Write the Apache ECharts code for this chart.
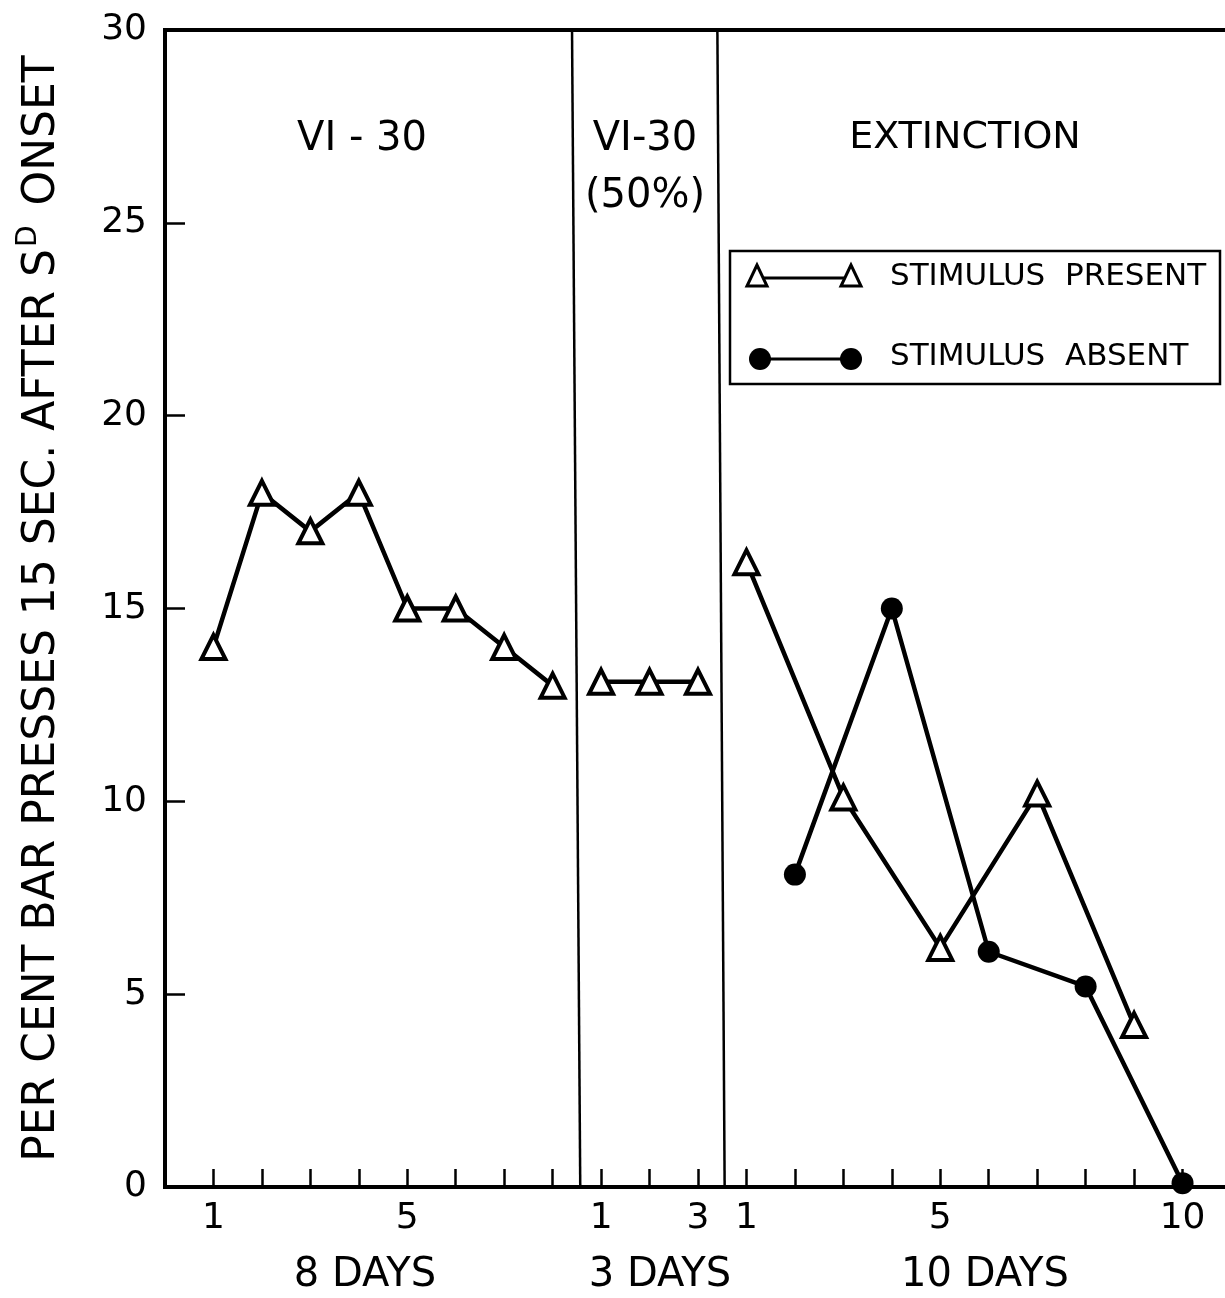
<!DOCTYPE html>
<html>
<head>
<meta charset="utf-8">
<title>Per cent bar presses 15 sec. after SD onset</title>
<script src="https://cdn.jsdelivr.net/npm/echarts@6/dist/echarts.min.js"></script>
<style>
  html, body { margin: 0; padding: 0; background: #fff; }
  #chart { width: 1225px; height: 1298px; }
</style>
</head>
<body>
<div id="chart"></div>
<script>
// Session labels along the day axis (one slot per session, all three phases in a row)
const dayTickLabels = ['1', '', '', '', '5', '', '', '', '1', '', '3', '1', '', '', '', '5', '', '', '', '', '10'];

// VI-30 phase, 8 days, stimulus present
const vi30Present = [14, 18, 17, 18, 15, 15, 14, 13];
// VI-30 (50%) phase, 3 days, stimulus present
const vi30HalfPresent = [13.1, 13.1, 13.1];
// Extinction phase, 10 days (stimulus present on odd days, absent on even days)
const extinctionPresent = [16.2, null, 10.1, null, 6.2, null, 10.2, null, 4.2, null];
const extinctionAbsent = [null, 8.1, null, 15.0, null, 6.1, null, 5.2, null, 0.1];

// y axis tick values
const yTicks = [0, 5, 10, 15, 20, 25, 30];

const FONT = 'DejaVu Sans';
const INK = '#000';

// place a phase's values on the shared session axis
function placed(values, offset) {
  const out = [];
  values.forEach((v, i) => { if (v !== null) out.push([offset + i, v]); });
  return out;
}

const vi30Start = 0;
const halfStart = vi30Start + vi30Present.length;
const extStart = halfStart + vi30HalfPresent.length;

const triangle = {
  symbol: 'triangle',
  symbolSize: [24, 24],
  itemStyle: { color: '#fff', borderColor: INK, borderWidth: 4 }
};
const lineStyle = { color: INK, width: 4.5 };

const chart = echarts.init(document.getElementById('chart'), null, { renderer: 'canvas' });

chart.setOption({
  animation: false,
  backgroundColor: '#fff',
  textStyle: { fontFamily: FONT, color: INK },
  grid: {
    left: 165, top: 30, bottom: 111, right: -6,
    outerBoundsMode: 'none',
    containLabel: false,
    show: true, borderColor: INK, borderWidth: 4, backgroundColor: 'transparent'
  },
  xAxis: {
    type: 'value',
    min: -1, max: 21, interval: 1,
    splitLine: { show: false },
    axisLine: { show: true, onZero: false, lineStyle: { color: INK, width: 4 } },
    axisTick: { show: true, inside: true, length: 18, lineStyle: { color: INK, width: 2.5 } },
    axisLabel: {
      show: true, margin: 14, fontSize: 36, fontFamily: FONT, color: INK,
      showMinLabel: true, showMaxLabel: true,
      formatter: v => (v >= 0 && v < dayTickLabels.length) ? dayTickLabels[v] : ''
    }
  },
  yAxis: {
    type: 'value',
    min: yTicks[0], max: yTicks[yTicks.length - 1], interval: 5,
    splitLine: { show: false },
    axisLine: { show: true, onZero: false, lineStyle: { color: INK, width: 4 } },
    axisTick: { show: true, inside: true, length: 20, lineStyle: { color: INK, width: 2.5 } },
    axisLabel: { margin: 18, fontSize: 36, fontFamily: FONT, color: INK },
    name: '{t|PER CENT BAR PRESSES 15 SEC. AFTER S}{s|D}{t| ONSET}',
    nameLocation: 'middle',
    nameRotate: 90,
    nameGap: 100,
    nameTextStyle: {
      rich: {
        t: { fontSize: 44, fontFamily: FONT, color: INK, verticalAlign: 'bottom' },
        s: { fontSize: 28, fontFamily: FONT, color: INK, verticalAlign: 'top', padding: [0, 6, 22, 2] }
      }
    }
  },
  series: [
    {
      name: 'VI-30 present', type: 'line', data: placed(vi30Present, vi30Start),
      ...triangle, lineStyle, z: 3,
      markLine: {
        silent: true, symbol: 'none', label: { show: false },
        lineStyle: { color: INK, width: 2.5, type: 'solid' },
        data: [
          [{ coord: [halfStart - 0.43, 0] }, { coord: [halfStart - 0.6, 30] }],
          [{ coord: [extStart - 0.45, 0] }, { coord: [extStart - 0.6, 30] }]
        ]
      }
    },
    {
      name: 'VI-30 (50%) present', type: 'line', data: placed(vi30HalfPresent, halfStart),
      ...triangle, lineStyle, z: 3
    },
    {
      name: 'Extinction present', type: 'line', data: placed(extinctionPresent, extStart),
      ...triangle, lineStyle, z: 3
    },
    {
      name: 'Extinction absent', type: 'line', data: placed(extinctionAbsent, extStart),
      symbol: 'circle', symbolSize: 22,
      itemStyle: { color: INK, borderColor: INK, borderWidth: 0 },
      lineStyle, z: 4
    }
  ],
  graphic: [
    // phase headings
    { type: 'text', x: 362, y: 140, style: { text: 'VI - 30', font: '40px "DejaVu Sans"', fill: INK, align: 'center', verticalAlign: 'middle' } },
    { type: 'text', x: 645, y: 140, style: { text: 'VI-30', font: '40px "DejaVu Sans"', fill: INK, align: 'center', verticalAlign: 'middle' } },
    { type: 'text', x: 645, y: 197, style: { text: '(50%)', font: '40px "DejaVu Sans"', fill: INK, align: 'center', verticalAlign: 'middle' } },
    { type: 'text', x: 965, y: 138, style: { text: 'EXTINCTION', font: '38px "DejaVu Sans"', fill: INK, align: 'center', verticalAlign: 'middle' } },
    // phase lengths under the axis
    { type: 'text', x: 365, y: 1276, style: { text: '8 DAYS', font: '40px "DejaVu Sans"', fill: INK, align: 'center', verticalAlign: 'middle' } },
    { type: 'text', x: 660, y: 1276, style: { text: '3 DAYS', font: '40px "DejaVu Sans"', fill: INK, align: 'center', verticalAlign: 'middle' } },
    { type: 'text', x: 985, y: 1276, style: { text: '10 DAYS', font: '40px "DejaVu Sans"', fill: INK, align: 'center', verticalAlign: 'middle' } },
    // key
    { type: 'rect', shape: { x: 730, y: 251, width: 490, height: 133 }, style: { fill: '#fff', stroke: INK, lineWidth: 2.5 }, z: 10 },
    { type: 'line', shape: { x1: 757, y1: 278, x2: 851, y2: 278 }, style: { stroke: INK, lineWidth: 3 }, z: 11 },
    { type: 'polygon', shape: { points: [[757, 265], [747, 286], [767, 286]] }, style: { fill: '#fff', stroke: INK, lineWidth: 3 }, z: 12 },
    { type: 'polygon', shape: { points: [[851, 265], [841, 286], [861, 286]] }, style: { fill: '#fff', stroke: INK, lineWidth: 3 }, z: 12 },
    { type: 'text', x: 890, y: 277, style: { text: 'STIMULUS  PRESENT', font: '31px "DejaVu Sans"', fill: INK, align: 'left', verticalAlign: 'middle' }, z: 12 },
    { type: 'line', shape: { x1: 760, y1: 359, x2: 851, y2: 359 }, style: { stroke: INK, lineWidth: 3 }, z: 11 },
    { type: 'circle', shape: { cx: 760, cy: 359, r: 11 }, style: { fill: INK }, z: 12 },
    { type: 'circle', shape: { cx: 851, cy: 359, r: 11 }, style: { fill: INK }, z: 12 },
    { type: 'text', x: 890, y: 357, style: { text: 'STIMULUS  ABSENT', font: '31px "DejaVu Sans"', fill: INK, align: 'left', verticalAlign: 'middle' }, z: 12 }
  ]
});
</script>
</body>
</html>
